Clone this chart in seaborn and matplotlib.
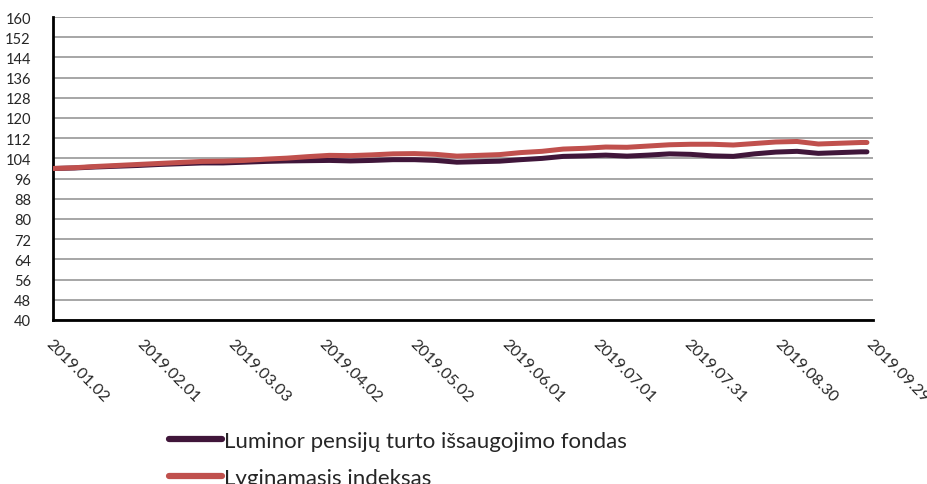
import pandas as pd
import numpy as np
import matplotlib.pyplot as plt
import matplotlib.dates as mdates
import seaborn as sns

sns.set_style("white")
plt.rcParams['font.family'] = ['Lato', 'DejaVu Sans']

# ============================================
# DADOS (semanais)
# ============================================
datos = list(pd.date_range("2019-01-02", "2019-09-25", freq="7D")) + [pd.Timestamp("2019-09-27")]

fondas = [100.0, 100.2, 100.6, 100.9, 101.2, 101.6, 101.9, 102.2, 102.2, 102.5,
          102.8, 103.0, 103.1, 103.2, 103.0, 103.2, 103.5, 103.5, 103.2, 102.5,
          102.7, 102.9, 103.5, 104.0, 104.8, 105.0, 105.3, 104.9, 105.3, 105.8,
          105.6, 105.0, 104.8, 105.8, 106.5, 106.8, 106.0, 106.3, 106.6, 106.6]

indeksas = [100.0, 100.3, 100.8, 101.2, 101.6, 102.0, 102.4, 102.8, 102.9, 103.2,
            103.7, 104.1, 104.7, 105.2, 105.1, 105.4, 105.8, 105.9, 105.6, 104.9,
            105.2, 105.5, 106.3, 106.8, 107.7, 108.0, 108.5, 108.4, 108.9, 109.4,
            109.6, 109.6, 109.3, 109.9, 110.5, 110.7, 109.7, 110.0, 110.3, 110.3]

serijos = ["Luminor pensijų turto išsaugojimo fondas", "Lyginamasis indeksas"]
spalvos = {serijos[0]: "#40163A", serijos[1]: "#C0504D"}

df = pd.DataFrame({
    "data": datos * 2,
    "reiksme": fondas + indeksas,
    "serija": [serijos[0]] * len(datos) + [serijos[1]] * len(datos),
})

# ============================================
# GRAFIKAS
# ============================================
fig = plt.figure(figsize=(9.28, 4.85), dpi=100)
ax = fig.add_axes([53 / 928, 1 - 321 / 485, 820 / 928, 303 / 485])

sns.lineplot(data=df, x="data", y="reiksme", hue="serija", palette=spalvos,
             linewidth=3.6, ax=ax, legend=False, zorder=3)

ax.set_ylim(40, 160)
ax.set_yticks(np.arange(40, 161, 8))
ax.yaxis.grid(True, color="#A6A6A6", linewidth=1.4)
ax.set_axisbelow(True)

start = pd.Timestamp("2019-01-02")
ax.set_xlim(start, pd.Timestamp("2019-09-29"))
ax.set_xticks(pd.date_range(start, periods=10, freq="30D"))
ax.xaxis.set_major_formatter(mdates.DateFormatter("%Y.%m.%d"))

for s in ["top", "right"]:
    ax.spines[s].set_visible(False)
for s in ["left", "bottom"]:
    ax.spines[s].set_color("black")
    ax.spines[s].set_linewidth(2)

ax.tick_params(axis="y", length=0, pad=16, labelsize=10.5)
ax.tick_params(axis="x", length=0, pad=12, labelsize=11.5)
for lbl in ax.get_xticklabels():
    lbl.set_rotation(-45)
    lbl.set_ha("left")
    lbl.set_va("top")
    lbl.set_rotation_mode("anchor")

ax.set_xlabel("")
ax.set_ylabel("")

handles = [plt.Line2D([], [], color=spalvos[s], linewidth=4.5) for s in serijos]
fig.legend(handles, serijos, loc="upper left", bbox_to_anchor=(0.182, 0.11),
           frameon=False, fontsize=16, handlelength=2.4, handletextpad=0.1,
           labelspacing=0.78, borderpad=0, borderaxespad=0)

plt.savefig("out.png", dpi=100)
